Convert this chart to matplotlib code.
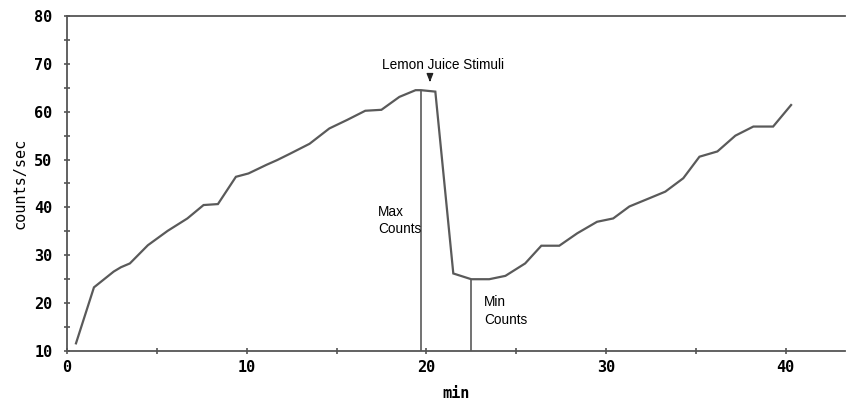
import matplotlib
matplotlib.use("Agg")
import matplotlib.pyplot as plt
from matplotlib.ticker import MultipleLocator

# Data
minutes = [0.5, 1.5, 2.6, 3.0, 3.5, 4.5, 5.6, 6.7, 7.6, 8.4, 9.4, 10.1, 11.1, 11.7,
           12.4, 13.5, 14.6, 15.6, 16.6, 17.5, 18.5, 19.4, 19.7, 20.5, 21.5, 22.5,
           23.5, 24.4, 25.5, 26.4, 27.4, 28.4, 29.5, 30.4, 31.3, 32.4, 33.3, 34.3,
           35.2, 36.2, 37.2, 38.2, 39.3, 40.3]
counts = [11.6, 23.3, 26.6, 27.5, 28.3, 32.1, 35.1, 37.7, 40.5, 40.7, 46.4, 47.1, 48.9, 49.9,
          51.2, 53.3, 56.5, 58.3, 60.2, 60.4, 63.1, 64.5, 64.5, 64.2, 26.2, 25.0,
          25.0, 25.7, 28.3, 32.0, 32.0, 34.6, 37.0, 37.7, 40.2, 41.9, 43.3, 46.1,
          50.6, 51.7, 55.0, 56.9, 56.9, 61.4]

max_x, max_y = 19.7, 64.5
min_x, min_y = 22.5, 25.0
stim_x = 20.2

fig = plt.figure(figsize=(8.46, 4.0), dpi=100)
ax = fig.add_axes([0.0792, 0.1225, 0.9196, 0.8375])

line_col = "#5a5a5a"
ax.plot(minutes, counts, color=line_col, lw=1.6, solid_joinstyle="miter")
ax.vlines([max_x], 10, max_y, color=line_col, lw=1.2)
ax.vlines([min_x], 10, min_y, color=line_col, lw=1.2)

ax.set_xlim(0, 43.3)
ax.set_ylim(10, 80)

for s in ["left", "bottom", "top"]:
    ax.spines[s].set_color("#555555")
    ax.spines[s].set_linewidth(1.3)
ax.spines["right"].set_visible(False)

ax.xaxis.set_major_locator(MultipleLocator(10))
ax.xaxis.set_minor_locator(MultipleLocator(5))
ax.yaxis.set_major_locator(MultipleLocator(10))
ax.yaxis.set_minor_locator(MultipleLocator(5))
ax.tick_params(which="both", direction="inout", length=5, width=1.2, color="#555555")
ax.tick_params(axis="y", which="both", right=False)
ax.tick_params(axis="x", which="both", top=False)

mono = "DejaVu Sans Mono"
for lab in ax.get_xticklabels() + ax.get_yticklabels():
    lab.set_fontfamily(mono)
    lab.set_fontweight("bold")
    lab.set_fontsize(11)
ax.tick_params(axis="y", pad=8)
ax.tick_params(axis="x", pad=4)

ax.set_xlabel("min", fontfamily=mono, fontweight="bold", fontsize=11, labelpad=8)
ax.set_ylabel("counts/sec", fontfamily=mono, fontsize=11, labelpad=5)

sans = "Liberation Sans"
fs = 9.8
ax.text(20.9, 69.8, "Lemon Juice Stimuli", ha="center", va="center", fontsize=fs, family=sans)
ax.annotate("", xy=(stim_x, 65.6), xytext=(stim_x, 67.4),
            arrowprops=dict(arrowstyle="-|>,head_width=0.2,head_length=0.5", color="#222222", lw=0.9))
ax.text(17.3, 39.0, "Max", ha="left", va="center", fontsize=fs, family=sans)
ax.text(17.3, 35.4, "Counts", ha="left", va="center", fontsize=fs, family=sans)
ax.text(23.2, 20.2, "Min", ha="left", va="center", fontsize=fs, family=sans)
ax.text(23.2, 16.5, "Counts", ha="left", va="center", fontsize=fs, family=sans)

fig.savefig("out.png", dpi=100)
